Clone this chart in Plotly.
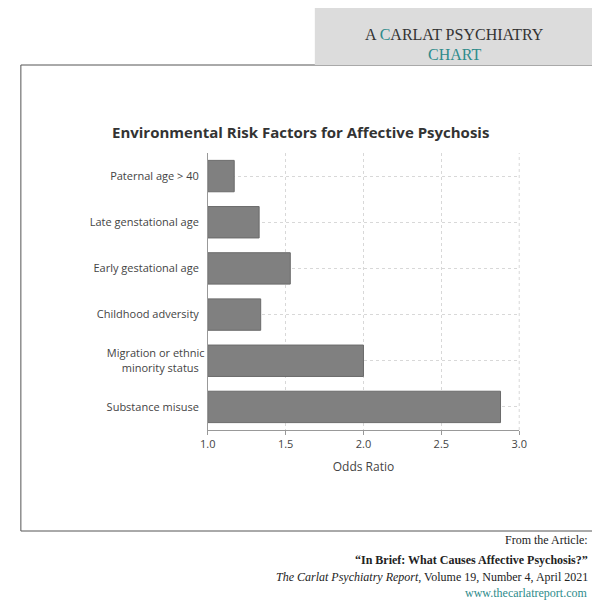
import plotly.graph_objects as go

factors = ["Paternal age > 40", "Late genstational age", "Early gestational age",
           "Childhood adversity", "Migration or ethnic<br>minority status", "Substance misuse"]
odds = [1.17, 1.33, 1.53, 1.34, 2.0, 2.88]

H = 603
def py(px):
    return 1 - px / H

fig = go.Figure(go.Bar(
    y=factors, x=[o - 1 for o in odds], base=1, orientation="h",
    marker=dict(color="#808080", line=dict(color="#6a6a6a", width=1)),
    hoverinfo="skip"))

fig.update_layout(
    width=600, height=603, margin=dict(l=0, r=0, t=0, b=0),
    paper_bgcolor="white", plot_bgcolor="white", showlegend=False, bargap=0.32,
    font=dict(family="Open Sans", size=11, color="#444"),
    xaxis=dict(domain=[197/600, 517/600], range=[1, 3], dtick=0.5, tickformat=".1f",
               showgrid=True, gridcolor="#d8d8d8", griddash="dot", zeroline=False,
               ticks="outside", ticklen=4, tickcolor="#999", showline=True, linecolor="#999",
               title=dict(text="Odds Ratio", font=dict(size=12, color="#444"), standoff=12)),
    yaxis=dict(domain=[py(422), py(145)], autorange="reversed", showgrid=True,
               gridcolor="#d8d8d8", griddash="dot", ticks="", ticksuffix="  ",
               showline=True, linecolor="#999", mirror=False),
)

shapes = [
    dict(type="rect", xref="paper", yref="paper", x0=5/600, x1=595/600, y0=py(523), y1=py(57),
         line=dict(color="#555", width=1)),
    dict(type="rect", xref="paper", yref="paper", x0=307/600, x1=595/600, y0=py(57), y1=1.0,
         line=dict(width=0), fillcolor="#dcdcdc"),
    dict(type="line", xref="paper", yref="paper", x0=517/600, x1=517/600, y0=py(422), y1=py(145),
         line=dict(color="#d8d8d8", width=1, dash="dot")),
]
fig.update_layout(shapes=shapes)

serif = "Liberation Serif"
ann = [
    dict(x=292/600, y=py(112), text="<b>Environmental Risk Factors for Affective Psychosis</b>",
         font=dict(size=15, color="#333", family="Open Sans")),
    dict(x=451/600, y=py(16), text="A <span style='color:#2e8b8b'>C</span>ARLAT PSYCHIATRY",
         font=dict(size=16, color="#333", family=serif)),
    dict(x=451/600, y=py(36), text="CHART", font=dict(size=16, color="#2e8b8b", family=serif)),
    dict(x=590/600, y=py(541), text="From the Article:", xanchor="right",
         font=dict(size=12, color="#222", family=serif)),
    dict(x=590/600, y=py(561), text="<b>“In Brief: What Causes Affective Psychosis?”</b>", xanchor="right",
         font=dict(size=12, color="#222", family=serif)),
    dict(x=590/600, y=py(578), text="<i>The Carlat Psychiatry Report</i>, Volume 19, Number 4, April 2021",
         xanchor="right", font=dict(size=12, color="#222", family=serif)),
    dict(x=590/600, y=py(594), text="www.thecarlatreport.com", xanchor="right",
         font=dict(size=12, color="#2e8b8b", family=serif)),
]
for a in ann:
    a.update(xref="paper", yref="paper", showarrow=False)
    a.setdefault("xanchor", "center")
fig.update_layout(annotations=ann)

fig.write_html("out.html")
